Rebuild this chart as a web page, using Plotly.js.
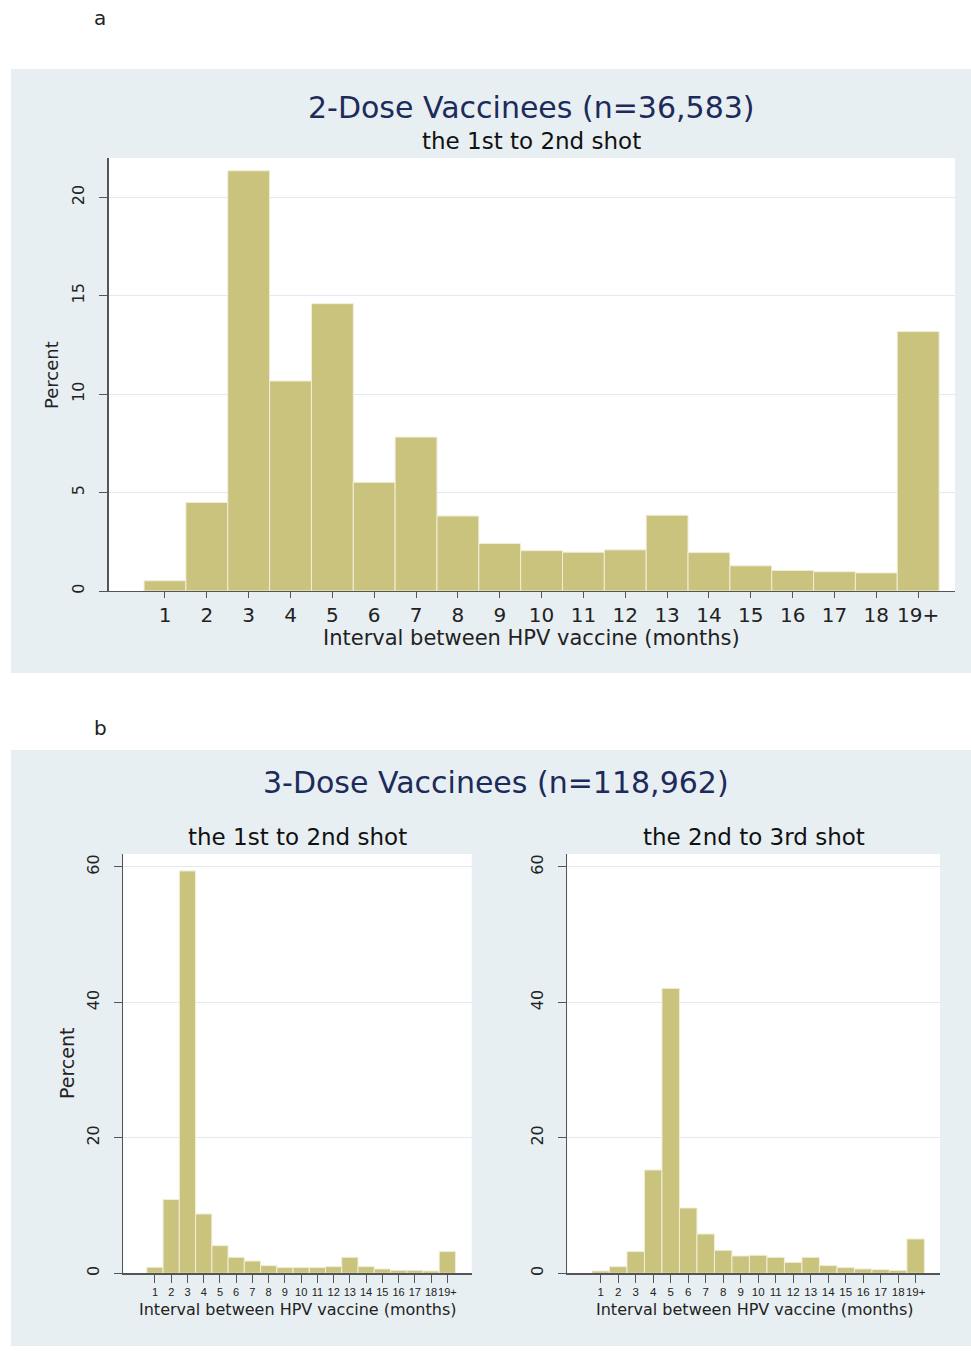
<!DOCTYPE html>
<html>
<head>
<meta charset="utf-8">
<script src="https://cdn.plot.ly/plotly-3.0.1.min.js"></script>
<style>html,body{margin:0;padding:0;background:#fff;}#chart{width:971px;height:1351px;}</style>
</head>
<body>
<div id="chart"></div>
<script>
// Categories (months between shots)
const categories = ['1','2','3','4','5','6','7','8','9','10','11','12','13','14','15','16','17','18','19+'];
// Panel a: 2-dose vaccinees, 1st to 2nd shot (percent)
const twoDose_1to2 = [0.52, 4.5, 21.35, 10.67, 14.6, 5.52, 7.82, 3.81, 2.41, 2.05, 1.97, 2.09, 3.85, 1.95, 1.28, 1.04, 0.98, 0.92, 13.18];
// Panel b: 3-dose vaccinees
const threeDose_1to2 = [0.89, 10.9, 59.4, 8.76, 4.08, 2.36, 1.82, 1.13, 0.84, 0.84, 0.84, 0.98, 2.36, 0.98, 0.64, 0.44, 0.44, 0.34, 3.2];
const threeDose_2to3 = [0.34, 0.98, 3.2, 15.25, 42.06, 9.64, 5.8, 3.4, 2.56, 2.66, 2.36, 1.62, 2.36, 1.13, 0.84, 0.64, 0.54, 0.44, 5.07];
const topTicks = [0, 5, 10, 15, 20];
const bottomTicks = [0, 20, 40, 60];

const W = 971, H = 1351;
const px = v => v / W;
const py = v => 1 - v / H;

const barColor = '#c9c37e';
const gridColor = '#e1eaee';
const axisColor = '#555555';
const panelColor = '#e8eff2';
const FONT = 'DejaVu Sans, Liberation Sans, Arial, sans-serif';
const NARROW = 'Liberation Sans, Arial, sans-serif';

function barTrace(y, xa, ya) {
  return {
    type: 'bar', x: categories, y: y, xaxis: xa, yaxis: ya,
    marker: {color: barColor, line: {color: '#f0eed8', width: 1}},
    width: 1, hoverinfo: 'x+y', showlegend: false
  };
}

function xAxis(domain, range, anchor, fam, fs, tl) {
  return {
    domain: domain, anchor: anchor, type: 'category', range: range,
    tickmode: 'array', tickvals: categories, ticktext: categories, tickangle: 0,
    ticks: 'outside', ticklen: tl, tickcolor: axisColor, tickwidth: 1,
    showline: true, linecolor: axisColor, linewidth: 1.2,
    showgrid: false, zeroline: false,
    tickfont: {family: fam, size: fs, color: '#222'}, ticklabelstandoff: 0
  };
}
function yAxis(domain, range, anchor, tv, fs) {
  return {
    domain: domain, anchor: anchor, range: range,
    tickmode: 'array', tickvals: tv, ticktext: tv.map(String), tickangle: -90,
    ticks: 'outside', ticklen: 8, tickcolor: axisColor, tickwidth: 1,
    showline: true, linecolor: axisColor, linewidth: 1.2,
    showgrid: true, gridcolor: gridColor, gridwidth: 1.2, zeroline: false,
    tickfont: {family: FONT, size: fs, color: '#222'}, ticklabelstandoff: 9
  };
}

const data = [
  barTrace(twoDose_1to2, 'x', 'y'),
  barTrace(threeDose_1to2, 'x2', 'y2'),
  barTrace(threeDose_2to3, 'x3', 'y3')
];

function ann(text, x, y, size, color, extra) {
  return Object.assign({text: text, x: px(x), y: py(y), xref: 'paper', yref: 'paper',
    showarrow: false, xanchor: 'center', yanchor: 'middle',
    font: {family: FONT, size: size, color: color}}, extra || {});
}
function whiteArea(xr, yr) {
  return {type: 'rect', xref: xr + ' domain', yref: yr + ' domain', x0: 0, x1: 1, y0: 0, y1: 1,
    fillcolor: '#ffffff', line: {width: 0}, layer: 'below'};
}

const layout = {
  width: W, height: H, autosize: false,
  margin: {l: 0, r: 0, t: 0, b: 0},
  paper_bgcolor: '#ffffff', plot_bgcolor: '#ffffff',
  bargap: 0, showlegend: false,
  xaxis: xAxis([px(108.5), px(955)], [-1.35, 18.88], 'y', FONT, 20, 6),
  yaxis: yAxis([py(591), py(158)], [0, 22], 'x', topTicks, 16),
  xaxis2: xAxis([px(123.3), px(471.7)], [-1.95, 19.5], 'y2', NARROW, 11, 8),
  yaxis2: yAxis([py(1273.3), py(854)], [0, 61.9], 'x2', bottomTicks, 16),
  xaxis3: xAxis([px(567.3), px(940)], [-1.91, 19.39], 'y3', NARROW, 11.5, 8),
  yaxis3: yAxis([py(1273.3), py(854)], [0, 61.9], 'x3', bottomTicks, 16),
  shapes: [
    {type: 'rect', xref: 'paper', yref: 'paper', x0: px(11), x1: px(971), y0: py(673), y1: py(69),
     fillcolor: panelColor, line: {width: 0}, layer: 'below'},
    {type: 'rect', xref: 'paper', yref: 'paper', x0: px(11), x1: px(971), y0: py(1346), y1: py(750),
     fillcolor: panelColor, line: {width: 0}, layer: 'below'},
    whiteArea('x', 'y'), whiteArea('x2', 'y2'), whiteArea('x3', 'y3')
  ],
  annotations: [
    ann('a', 100, 18, 20, '#222'),
    ann('b', 100, 728, 20, '#222'),
    ann('2-Dose Vaccinees (n=36,583)', 531, 107, 30, '#1c2b5a'),
    ann('the 1st to 2nd shot', 531, 141, 23, '#111'),
    ann('Interval between HPV vaccine (months)', 531, 638, 21, '#222'),
    ann('Percent', 52, 375, 18, '#222', {textangle: -90}),
    ann('3-Dose Vaccinees (n=118,962)', 496, 782, 30, '#1c2b5a'),
    ann('the 1st to 2nd shot', 297, 837, 23, '#111'),
    ann('the 2nd to 3rd shot', 754, 837, 23, '#111'),
    ann('Interval between HPV vaccine (months)', 297, 1309, 16, '#222'),
    ann('Interval between HPV vaccine (months)', 754, 1309, 16, '#222'),
    ann('Percent', 67, 1063, 19, '#222', {textangle: -90})
  ]
};

Plotly.newPlot('chart', data, layout, {staticPlot: true, displayModeBar: false});
</script>
</body>
</html>
